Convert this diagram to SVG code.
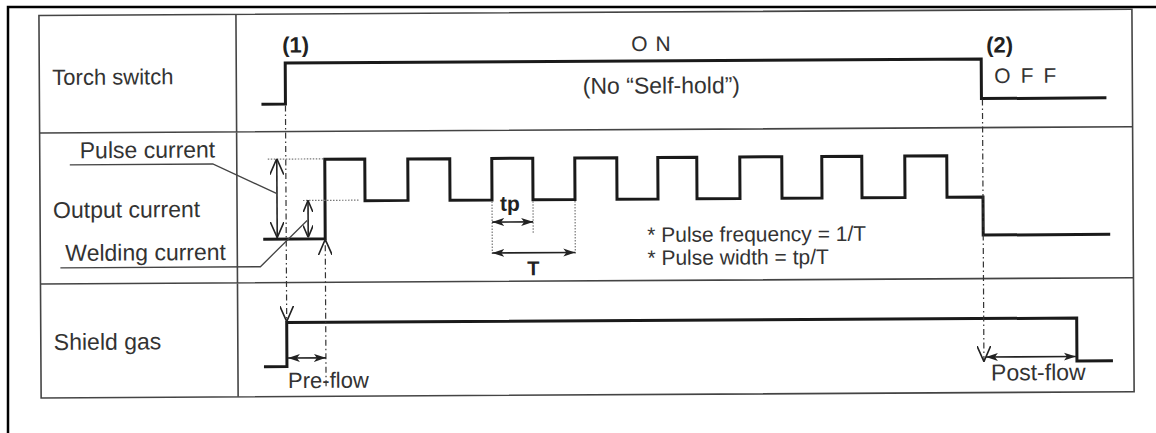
<svg xmlns="http://www.w3.org/2000/svg" width="1156" height="433" viewBox="0 0 1156 433">
<defs>
<style>
.t{font-family:"Liberation Sans",Arial,Helvetica,sans-serif;font-size:23px;fill:#333}
.b{font-weight:bold;fill:#222}
.grid{stroke:#444;stroke-width:1.6;fill:none}
.sig{stroke:#1a1a1a;stroke-width:3;fill:none;stroke-linejoin:miter}
.dash{stroke:#333;stroke-width:1.2;stroke-dasharray:6 3 1.5 3;fill:none}
.dot{stroke:#777;stroke-width:1.2;stroke-dasharray:1.5 1.5;fill:none}
.arr{stroke:#222;stroke-width:1.6;fill:none}
.lead{stroke:#444;stroke-width:1.3;fill:none}
</style>
<marker id="openV" viewBox="0 0 16 14" refX="16" refY="7" markerWidth="16" markerHeight="14" markerUnits="userSpaceOnUse" orient="auto-start-reverse">
<path d="M0,0 L16,7 L0,14" fill="none" stroke="#222" stroke-width="1.6"/>
</marker>
<marker id="openS" viewBox="0 0 12 10" refX="12" refY="5" markerWidth="12" markerHeight="10" markerUnits="userSpaceOnUse" orient="auto-start-reverse">
<path d="M0,0 L12,5 L0,10" fill="none" stroke="#222" stroke-width="1.6"/>
</marker>
<marker id="fill" viewBox="0 0 12 10" refX="12" refY="5" markerWidth="12" markerHeight="10" markerUnits="userSpaceOnUse" orient="auto-start-reverse">
<path d="M0,1 L12,5 L0,9 L3,5 z" fill="#222"/>
</marker>
</defs>
<rect width="1156" height="433" fill="#fff"/>
<path d="M8,433 V7 H1156" stroke="#000" stroke-width="2.5" fill="none"/>
<g transform="rotate(-0.33 40 200)">
<g id="table">
<rect x="40" y="15.5" width="1093" height="382.5" class="grid"/>
<path class="grid" d="M40,133 H1133 M40,284 H1133 M237,15.5 V398"/>
</g>
<g id="torch-switch">
<text class="t" x="53" y="85" style="font-size:22px">Torch switch</text>
<path class="sig" d="M262,105.5 H286 V64.5 H982 V104 H1107"/>
<text class="t b" x="283" y="54" style="font-size:22px">(1)</text>
<text class="t" x="632" y="54.5" style="font-size:21px;letter-spacing:8px">ON</text>
<text class="t" x="662" y="97" text-anchor="middle">(No “Self-hold”)</text>
<text class="t b" x="987" y="58" style="font-size:22px">(2)</text>
<text class="t" x="995" y="88.5" style="font-size:21px;letter-spacing:10px">OFF</text>
</g>
<g id="output-current">
<text class="t" x="53" y="218">Output current</text>
<path class="sig" d="M263,240.5 H325 V161 H365 V202.5 H408 V161 H450 V202.5 H492 V161 H533 V202.5 H575 V161 H617 V202.5 H658 V161 H697 V202.5 H740 V161 H782 V202.5 H822 V161 H862 V202.5 H905 V161 H947 V202.5 H983 V240.5 H1110"/>
<text class="t b" x="500" y="213.5" style="font-size:21px">tp</text>
<text class="t b" x="533" y="278" text-anchor="middle" style="font-size:20px">T</text>
<text class="t" x="647" y="245.5" style="font-size:21px">* Pulse frequency = 1/T</text>
<text class="t" x="647" y="268.5" style="font-size:21px">* Pulse width = tp/T</text>
</g>
<g id="pulse-current-label">
<text class="t" x="80" y="158.5">Pulse current</text>
</g>
<g id="welding-current-label">
<text class="t" x="65" y="261">Welding current</text>
</g>
<g id="shield-gas">
<text class="t" x="53" y="350">Shield gas</text>
<path class="sig" d="M263,368 H286 V324 H1076 V367 H1112"/>
<text class="t" x="287" y="389.5" style="font-size:22px">Pre-flow</text>
<text class="t" x="990" y="386">Post-flow</text>
</g>
<g id="connectors">
<path class="dash" d="M286,107 V323" marker-end="url(#openV)"/>
<path class="dash" d="M325,388 V241" marker-end="url(#openV)"/>
<path class="dash" d="M983,105 V367" marker-end="url(#openV)"/>
<path class="dot" d="M268,160.5 H325 M303,202 H360 M492,204 V258 M533,204 V236 M575,204 V258"/>
<path class="arr" d="M277,160 V239" marker-start="url(#openV)" marker-end="url(#openV)"/>
<path class="arr" d="M308,202 V239" marker-start="url(#openS)" marker-end="url(#openS)"/>
<path class="arr" d="M492,224.7 H533" marker-start="url(#fill)" marker-end="url(#fill)"/>
<path class="arr" d="M492,255.6 H575" marker-start="url(#fill)" marker-end="url(#fill)"/>
<path class="arr" d="M287,359.5 H325" marker-start="url(#fill)" marker-end="url(#fill)"/>
<path class="arr" d="M985,362.5 H1075" marker-start="url(#fill)" marker-end="url(#fill)"/>
<path class="lead" d="M70,165 H213 L277,195"/>
<path class="lead" d="M60,268 H260 L307,222"/>
</g>
</g>
</svg>
